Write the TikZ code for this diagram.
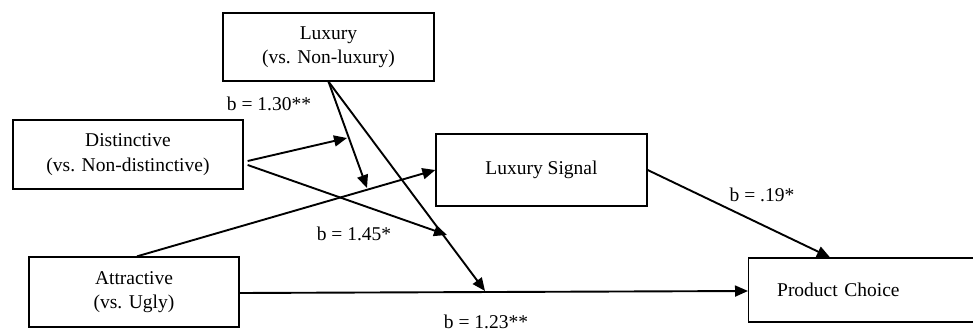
\documentclass[tikz,border=0pt]{standalone}
\usepackage{fontspec}
\setmainfont{Liberation Serif}
\usetikzlibrary{arrows.meta}
\begin{document}
\begin{tikzpicture}[x=1pt,y=-1pt,
  box/.style={draw, line width=1.3pt, inner sep=0pt, align=center, font=\fontsize{19.5}{24.5}\selectfont},
  conn/.style={line width=1.9pt},
  arr/.style={conn, -{Triangle[length=13pt,width=11pt]}},
  lbl/.style={font=\fontsize{19.5}{24}\selectfont}]
\useasboundingbox (0,0) rectangle (973,331);
\node[box, minimum width=211pt, minimum height=68pt] (lux) at (328.5,47) {Luxury\\(vs. Non-luxury)};
\node[box, minimum width=230pt, minimum height=69pt] (dist) at (128,154.5) {Distinctive\\(vs. Non-distinctive)};
\node[box, minimum width=210pt, minimum height=70pt] (attr) at (134,292) {Attractive\\(vs. Ugly)};
\node[box, minimum width=211pt, minimum height=72pt] (sig) at (541.5,170) {Luxury Signal};
\node[box, anchor=west, inner xsep=28.5pt, text width=185pt, align=left, minimum height=64pt] (pc) at (748,290) {Product Choice};
% free ends on other connectors
\coordinate (d1) at (347,138);
\coordinate (l1) at (367,188);
\coordinate (d2) at (447,235);
\coordinate (l2) at (485,291);
% connectors
\draw[arr] ([shift={(4,6.5)}]dist.east) -- (d1);
\draw[arr] ([shift={(4,10.5)}]dist.east) -- (d2);
\draw[arr] (lux.south) -- (l1);
\draw[arr] (lux.south) -- (l2);
\draw[arr] ([xshift=3pt]attr.north) -- (sig.west);
\draw[arr] ([yshift=-1pt]attr.east) -- ([yshift=-1pt]pc.west);
\draw[arr] (sig.east) -- ([xshift=82pt]pc.north west);
% labels
\node[lbl] (b1) at (269,104) {b = 1.30**};
\node[lbl] (b2) at (354,234) {b = 1.45*};
\node[lbl] (b3) at (762,195) {b = .19*};
\node[lbl] (b4) at (486,322) {b = 1.23**};
\end{tikzpicture}
\end{document}
